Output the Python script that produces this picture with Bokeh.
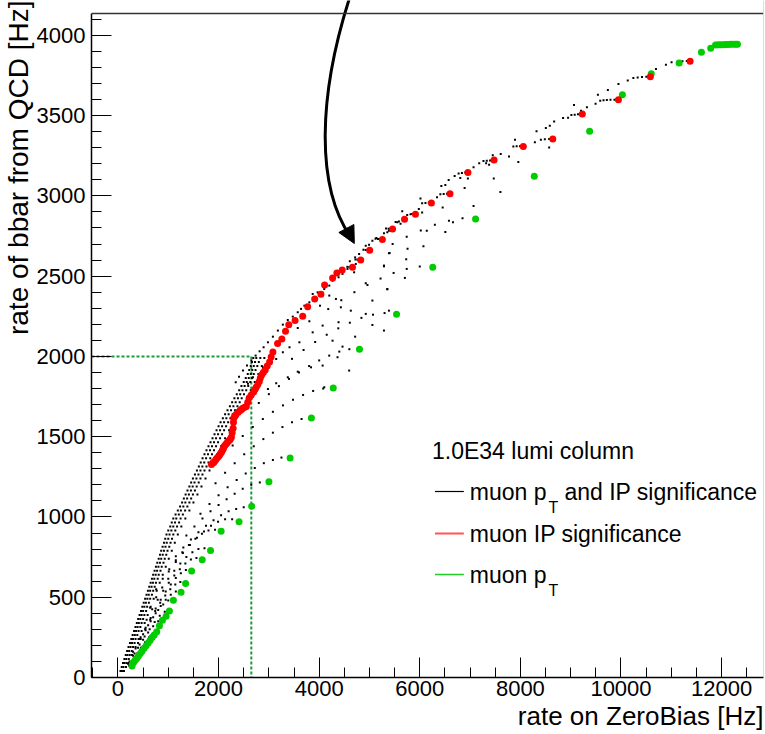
from bokeh.plotting import figure
from bokeh.models import FixedTicker, Title, Label, Span, Arrow, NormalHead, Range1d
from bokeh.embed import file_html
from bokeh.resources import INLINE

# ---------------- data ----------------
# muon pT only (green)
green_x = [280, 295, 320, 350, 380, 410, 445, 480, 520, 560, 600, 640, 680, 720, 771,
           825, 884, 957, 1023, 1102, 1254, 1345, 1464, 1675, 1840, 2051, 2407, 2658,
           3001, 3422, 3845, 4280, 4801, 5538, 6258, 7109, 8276, 9376, 10028, 10602,
           11156, 11599, 11783, 11880, 11930, 11980, 12030, 12080, 12130, 12180, 12230,
           12280, 12315]
green_y = [72, 88, 98, 110, 122, 135, 150, 165, 182, 198, 215, 232, 250, 265, 285,
           322, 357, 382, 415, 481, 531, 585, 664, 733, 791, 911, 970, 1067,
           1220, 1368, 1617, 1804, 2044, 2262, 2556, 2856, 3122, 3402, 3630, 3761,
           3828, 3894, 3919, 3940, 3941, 3942, 3942, 3943, 3943, 3944, 3944,
           3944, 3945]

# muon IP significance only (red)
red_x = [1859, 1890, 1907, 1935, 1958, 1985, 2012, 2035, 2057, 2075, 2091, 2105, 2124,
         2150, 2170, 2195, 2223, 2240, 2255, 2270, 2289, 2296, 2302, 2325, 2348, 2390,
         2427, 2455, 2480, 2520, 2552, 2580, 2611, 2650, 2698, 2725, 2749, 2780, 2809,
         2830, 2856, 2890, 2927, 2967, 3014, 3045, 3080, 3173, 3258, 3331, 3396, 3521,
         3673, 3772, 3911, 4035, 4108, 4267, 4352, 4458, 4662, 4826, 5004, 5256, 5459,
         5697, 5914, 6231, 6601, 6957, 7477, 8058, 8644, 9231, 9949, 10583, 11374]
red_y = [1326, 1338, 1341, 1352, 1362, 1372, 1382, 1393, 1403, 1414, 1424, 1435, 1445,
         1455, 1463, 1472, 1480, 1488, 1496, 1525, 1552, 1590, 1617, 1628, 1638, 1652,
         1663, 1670, 1677, 1684, 1688, 1715, 1742, 1760, 1779, 1794, 1808, 1825, 1843,
         1865, 1885, 1900, 1916, 1941, 1966, 1997, 2028, 2080, 2109, 2156, 2198, 2223,
         2250, 2310, 2358, 2388, 2445, 2489, 2520, 2539, 2555, 2601, 2661, 2729, 2794,
         2854, 2885, 2956, 3014, 3145, 3224, 3308, 3354, 3510, 3599, 3742, 3838]

# muon pT and IP significance (black dots), read region by region
band_pts = [
    (50, 40), (80, 40), (120, 40),
    (100, 90), (130, 90), (170, 90), (210, 90),
    (155, 140), (190, 140), (235, 140), (280, 140),
    (210, 190), (250, 190), (300, 190), (350, 190),
    (265, 240), (300, 240), (350, 240), (410, 240),
    (320, 290), (360, 290), (410, 290), (470, 290),
    (375, 340), (415, 340), (470, 340), (530, 340),
    (430, 390), (470, 390), (525, 390), (590, 390),
    (485, 440), (525, 440), (580, 440), (650, 440),
    (540, 490), (585, 490), (640, 490), (710, 490),
    (595, 540), (640, 540), (700, 540), (770, 540),
    (650, 590), (695, 590), (755, 590), (830, 590),
    (700, 640), (750, 640), (810, 640), (890, 640),
    (755, 690), (805, 690), (870, 690), (950, 690),
    (810, 740), (860, 740), (930, 740), (1010, 740),
    (860, 790), (915, 790), (985, 790), (1070, 790),
    (915, 840), (970, 840), (1045, 840), (1130, 840),
    (965, 890), (1025, 890), (1100, 890), (1190, 890),
    (1040, 940), (1100, 940), (1175, 940), (1260, 940),
    (1100, 990), (1160, 990), (1245, 990), (1340, 990),
    (1190, 1040), (1250, 1040), (1335, 1040), (1420, 1040),
    (1275, 1090), (1340, 1090), (1420, 1090), (1500, 1090),
    (1345, 1140), (1410, 1140), (1490, 1140), (1580, 1140),
    (1420, 1190), (1485, 1190), (1565, 1190), (1660, 1190),
    (1490, 1240), (1560, 1240), (1640, 1240), (1740, 1240),
    (1570, 1290), (1640, 1290), (1720, 1290), (1820, 1290),
    (1645, 1340), (1715, 1340), (1800, 1340), (1900, 1340),
    (1720, 1390), (1790, 1390), (1870, 1390), (1970, 1390),
    (1800, 1440), (1870, 1440), (1950, 1440), (2050, 1440),
    (1880, 1490), (1950, 1490), (2030, 1490), (2130, 1490),
    (1960, 1540), (2030, 1540), (2110, 1540), (2210, 1540),
    (2040, 1590), (2110, 1590), (2190, 1590), (2290, 1590),
    (2130, 1640), (2200, 1640), (2280, 1640), (2380, 1640),
    (2225, 1690), (2295, 1690), (2375, 1690), (2470, 1690),
    (2315, 1740), (2385, 1740), (2460, 1740), (2560, 1740),
    (2410, 1790), (2475, 1790), (2550, 1790), (2640, 1790),
    (2500, 1840), (2560, 1840), (2630, 1840), (2720, 1840),
    (2580, 1890), (2640, 1890), (2700, 1890), (2790, 1890),
    (2640, 1940), (2700, 1940), (2770, 1940), (2860, 1940),
    (2690, 1990), (2750, 1990), (2830, 1990), (2910, 1990),
    (75, 65), (110, 65), (160, 65),
    (128, 115), (165, 115), (215, 115),
    (182, 165), (222, 165), (275, 165),
    (238, 215), (280, 215), (330, 215),
    (292, 265), (335, 265), (385, 265),
    (348, 315), (390, 315), (445, 315),
    (402, 365), (445, 365), (500, 365),
    (458, 415), (500, 415), (560, 415),
    (512, 465), (555, 465), (615, 465),
    (568, 515), (612, 515), (675, 515),
    (622, 565), (668, 565), (730, 565),
    (675, 615), (722, 615), (790, 615),
    (728, 665), (778, 665), (845, 665),
    (782, 715), (835, 715), (905, 715),
    (835, 765), (890, 765), (960, 765),
    (888, 815), (945, 815), (1020, 815),
    (940, 865), (1000, 865), (1075, 865),
    (1000, 915), (1062, 915), (1140, 915),
    (1070, 965), (1135, 965), (1215, 965),
    (1145, 1015), (1210, 1015), (1290, 1015),
    (1235, 1065), (1300, 1065), (1380, 1065),
    (1310, 1115), (1375, 1115), (1455, 1115),
    (1382, 1165), (1450, 1165), (1530, 1165),
    (1455, 1215), (1522, 1215), (1605, 1215),
    (1530, 1265), (1600, 1265), (1680, 1265),
    (1608, 1315), (1678, 1315), (1760, 1315),
    (1682, 1365), (1752, 1365), (1835, 1365),
    (1760, 1415), (1830, 1415), (1910, 1415),
    (1840, 1465), (1910, 1465), (1990, 1465),
    (1920, 1515), (1990, 1515), (2070, 1515),
    (2000, 1565), (2070, 1565), (2150, 1565),
    (2085, 1615), (2155, 1615), (2235, 1615),
    (2178, 1665), (2248, 1665), (2328, 1665),
    (2270, 1715), (2340, 1715), (2420, 1715),
    (2362, 1765), (2430, 1765), (2505, 1765),
    (2455, 1815), (2518, 1815), (2590, 1815),
    (2540, 1865), (2600, 1865), (2665, 1865),
    (2610, 1915), (2670, 1915), (2735, 1915),
    (2665, 1965), (2725, 1965), (2800, 1965),
]
fan_pts = [
    (700, 275), (620, 250), (540, 220), (460, 185), (380, 150), (300, 112), (220, 75),
    (800, 350), (700, 320), (600, 280), (500, 235), (400, 185), (300, 135), (200, 85),
    (930, 410), (830, 385), (730, 345), (630, 300), (530, 255), (430, 205), (330, 150), (230, 100),
    (1000, 480), (900, 455), (800, 420), (700, 375), (600, 325), (500, 270), (400, 215), (300, 160),
    (1150, 535), (1050, 515), (950, 485), (850, 445), (750, 400), (650, 350), (550, 295), (450, 240), (350, 180),
    (1240, 595), (1140, 580), (1040, 550), (940, 510), (840, 465), (740, 415), (640, 360), (540, 300), (440, 240),
    (1350, 670), (1250, 650), (1150, 620), (1050, 580), (950, 535), (850, 485), (750, 430), (650, 370), (550, 310), (450, 250),
    (1560, 745), (1450, 735), (1340, 710), (1230, 675), (1120, 635), (1010, 590), (900, 540), (790, 485), (680, 425), (570, 360),
    (1720, 805), (1600, 800), (1480, 780), (1360, 750), (1240, 710), (1120, 665), (1000, 615), (880, 560), (760, 500), (640, 435),
    (1930, 920), (1800, 915), (1670, 895), (1540, 865), (1410, 825), (1280, 780), (1150, 730), (1020, 675), (890, 615), (760, 550),
    (2270, 985), (2130, 985), (1990, 970), (1850, 945), (1710, 910), (1570, 870), (1430, 825), (1290, 775), (1150, 720), (1010, 660),
    (2500, 1060), (2350, 1050), (2200, 1035), (2050, 1010), (1900, 980), (1750, 945), (1600, 905), (1450, 860), (1300, 810), (1150, 755),
    (2820, 1215), (2650, 1200), (2480, 1175), (2320, 1145), (2160, 1110), (2000, 1075), (1840, 1035), (1680, 990), (1520, 940), (1360, 885),
    (3250, 1370), (3080, 1355), (2900, 1335), (2720, 1305), (2540, 1270), (2360, 1230), (2180, 1185), (2000, 1135), (1820, 1080), (1640, 1020),
    (3650, 1610), (3460, 1590), (3270, 1560), (3080, 1525), (2890, 1485), (2700, 1440), (2510, 1390), (2320, 1335), (2130, 1275), (1940, 1210),
    (4080, 1800), (3880, 1785), (3680, 1760), (3480, 1730), (3280, 1695), (3080, 1655), (2880, 1610), (2680, 1560), (2480, 1505), (2280, 1445),
    (4600, 2045), (4400, 2030), (4200, 2005), (4000, 1975), (3800, 1940), (3600, 1900), (3400, 1860), (3200, 1815), (3000, 1765), (2800, 1710),
    (5300, 2270), (5070, 2260), (4840, 2240), (4610, 2210), (4380, 2175), (4150, 2135), (3920, 2090), (3690, 2040), (3460, 1985),
    (6000, 2560), (5740, 2545), (5480, 2520), (5220, 2485), (4960, 2445), (4700, 2400), (4440, 2350), (4180, 2295),
    (6850, 2860), (6580, 2845), (6300, 2820), (6020, 2785), (5740, 2745), (5460, 2700),
]
mid_pts = [
    (4926, 2690), (4992, 2696), (5058, 2721), (5137, 2738), (5387, 2642), (5288, 2566),
    (4794, 2638), (4715, 2617), (4609, 2593), (4728, 2576), (4563, 2545), (4695, 2524),
    (4464, 2514), (4385, 2493), (4266, 2472), (4926, 2456), (4201, 2441), (4101, 2420),
    (3969, 2399), (3871, 2389), (4201, 2379), (4333, 2358), (5058, 2348), (5354, 2420),
    (4016, 2316), (3805, 2337), (3706, 2316), (3640, 2296), (3574, 2275), (3475, 2248),
    (3376, 2227), (3278, 2198), (3179, 2161), (3080, 2123), (2981, 2088), (2895, 2057),
    (2816, 2032), (2737, 2005), (2651, 1974), (2565, 1943), (2486, 1912), (2407, 1874),
    (2341, 1839), (3805, 2219), (4069, 2192), (4385, 2213), (3871, 2150), (3574, 2177),
    (3607, 2088), (3410, 2057), (3278, 2026), (3146, 1984), (2981, 1957), (2882, 1932),
    (2684, 1870), (2585, 1829), (4464, 2061), (4365, 1995), (4069, 1943), (3838, 1932),
    (3574, 1905), (3376, 1870), (3146, 1833), (2981, 1797), (4715, 2123), (5058, 2196),
    (5288, 2161), (4926, 2265), (4629, 2285), (4431, 2306), (5387, 2285), (4266, 2098),
    (4596, 1912), (4101, 1808),
    (5120, 2733), (5170, 2732), (5215, 2731), (4880, 2664), (4925, 2663), (4965, 2662),
    (4720, 2604), (4760, 2603), (4795, 2602), (4560, 2558), (4600, 2557), (5330, 2797),
    (5380, 2796), (5420, 2795),
]
upper_pts = [
    (10893, 3817), (11005, 3832), (11123, 3836), (11222, 3838), (11308, 3840), (10695, 3790),
    (10134, 3718), (10246, 3734), (10332, 3738), (10418, 3740), (10504, 3742), (9950, 3697),
    (9739, 3659), (9541, 3630), (9587, 3593), (9653, 3595), (9719, 3597), (9791, 3599),
    (9871, 3599), (9495, 3574), (9323, 3552), (9066, 3566), (8849, 3485), (8948, 3487),
    (9014, 3504), (9080, 3506), (9145, 3508), (9205, 3531), (8671, 3464), (8585, 3437),
    (8506, 3423), (8321, 3402), (8288, 3334), (8407, 3350), (8486, 3352), (8572, 3354),
    (8572, 3302), (7893, 3350), (7860, 3307), (7926, 3309), (7992, 3309), (7774, 3246),
    (7959, 3211), (7609, 3261), (7266, 3217), (7332, 3219), (7398, 3221), (7181, 3203),
    (7319, 3203), (7378, 3194), (7451, 3253), (7471, 3109), (7069, 3178), (6772, 3140),
    (6838, 3143), (6904, 3145), (6693, 3124), (6805, 3111), (6956, 3109), (6574, 3099),
    (6508, 3068), (6429, 3062), (6891, 3049), (7603, 3024), (6409, 3010), (6475, 3012),
    (6541, 3014), (6343, 2991), (6455, 2927), (7069, 2937), (6660, 2835), (6047, 2954),
    (6113, 2956), (6179, 2958), (6014, 2983), (5981, 2918), (6047, 2896), (5651, 2904),
    (6508, 2775), (6139, 2783), (5750, 2881), (5816, 2885), (5849, 2887), (5618, 2827),
    (5552, 2835), (5519, 2837), (5585, 2840), (5387, 2783), (5354, 2773), (5288, 2767),
    (5401, 2644), (5757, 2671), (5730, 2605), (5704, 2489), (6073, 2686), (5288, 2561),
    (5354, 2418),
]
black_pts = band_pts + fan_pts + mid_pts + upper_pts
black_x = [pt[0] for pt in black_pts]
black_y = [pt[1] for pt in black_pts]

rate_limit_y = 2000      # Hz, bbar rate budget (dashed line)
zb_at_limit_x = 2651     # Hz, ZeroBias rate at the budget

x_major = [0, 2000, 4000, 6000, 8000, 10000, 12000]
x_minor = [-500 + 500 * i for i in range(28)]
y_major = [0, 500, 1000, 1500, 2000, 2500, 3000, 3500, 4000]
y_minor = [100 * i for i in range(42)]

legend_header = "1.0E34 lumi column"
legend_rows = ["muon p", "muon IP significance", "muon p"]

# ---------------- layout ----------------
FONT = "Liberation Sans"
X_MIN, X_MAX = -526, 12833
Y_AXIS_TOP = 4136
Y_TOP = 4217
FR_L, FR_R, FR_T, FR_B = 88, 763, 0, 677

def dx(px):
    return X_MIN + (px - FR_L) * (X_MAX - X_MIN) / (FR_R - FR_L)

def dy(py):
    return (FR_B - py) * Y_TOP / (FR_B - FR_T)

p = figure(width=765, height=734, x_range=Range1d(X_MIN, X_MAX), y_range=Range1d(0, Y_TOP),
           output_backend="svg", toolbar_location=None,
           min_border_left=FR_L, min_border_right=765 - FR_R, min_border_top=0, min_border_bottom=57)
p.outline_line_color = None
p.xgrid.visible = False
p.ygrid.visible = False
p.background_fill_color = "white"
p.border_fill_color = "white"

for ax, major, minor in ((p.xaxis[0], x_major, x_minor), (p.yaxis[0], y_major, y_minor)):
    ax.ticker = FixedTicker(ticks=major, minor_ticks=minor)
    ax.major_tick_in = 20
    ax.major_tick_out = 0
    ax.minor_tick_in = 10
    ax.minor_tick_out = 0
    ax.axis_line_color = "black"
    ax.axis_line_width = 1.5
    ax.major_tick_line_color = "black"
    ax.minor_tick_line_color = "black"
    ax.major_label_text_font = FONT
    ax.major_label_text_font_size = "22px"
    ax.major_label_text_color = "black"
p.yaxis[0].bounds = (0, Y_AXIS_TOP)
p.yaxis[0].major_label_standoff = 6
p.xaxis[0].major_label_standoff = 3

p.add_layout(Span(location=Y_AXIS_TOP, dimension="width", line_color="#333333", line_width=1.5))
p.add_layout(Span(location=X_MAX, dimension="height", line_color="#bbbbbb", line_width=1))

p.add_layout(Title(text="rate of bbar from QCD [Hz]", align="right", text_font=FONT,
                   text_font_size="28px", text_font_style="normal", text_color="black",
                   standoff=0), "left")
p.add_layout(Title(text="rate on ZeroBias [Hz]", align="right", text_font=FONT,
                   text_font_size="26px", text_font_style="normal", text_color="black",
                   standoff=0), "below")

# dashed budget lines
p.line(x=[X_MIN, zb_at_limit_x, zb_at_limit_x], y=[rate_limit_y, rate_limit_y, 0],
       line_color="#1f9a3a", line_width=2, line_dash="3 2")

# points
p.scatter(x=black_x, y=black_y, marker="square", size=2, fill_color="black",
          line_color=None)
p.scatter(x=green_x, y=green_y, marker="circle", size=7, fill_color="#00cc00", line_color=None)
p.scatter(x=red_x, y=red_y, marker="circle", size=7, fill_color="#ff0000", line_color=None)

# curved arrow
p.bezier(x0=dx(347), y0=dy(-2), x1=dx(348), y1=dy(236), cx0=dx(316), cy0=dy(95),
         cx1=dx(313), cy1=dy(185), line_color="black", line_width=3)
p.add_layout(Arrow(x_start=dx(344), y_start=dy(228), x_end=dx(352), y_end=dy(243),
                   line_color="black", line_width=3,
                   end=NormalHead(size=17, fill_color="black", line_color="black")))

# legend
def txt(x, y, s, size="23px"):
    p.add_layout(Label(x=dx(x), y=dy(y), text=s, text_font=FONT, text_font_size=size,
                       text_baseline="middle", text_align="left", text_color="black"))

txt(430, 450, legend_header)
leg_colors = ["black", "#ff5555", "#22cc22"]
leg_widths = [1.2, 2, 1.5]
leg_y = [491, 533, 574]
p.segment(x0=[dx(433)] * 3, x1=[dx(462)] * 3, y0=[dy(v) for v in leg_y], y1=[dy(v) for v in leg_y],
          line_color=leg_colors, line_width=leg_widths)
for yy, s in zip(leg_y, legend_rows):
    txt(468, yy, s)
txt(547, 507, "T", "16px")
txt(563, 491, "and IP significance")
txt(547, 590, "T", "16px")

open("out.html", "w").write(file_html(p, INLINE))
